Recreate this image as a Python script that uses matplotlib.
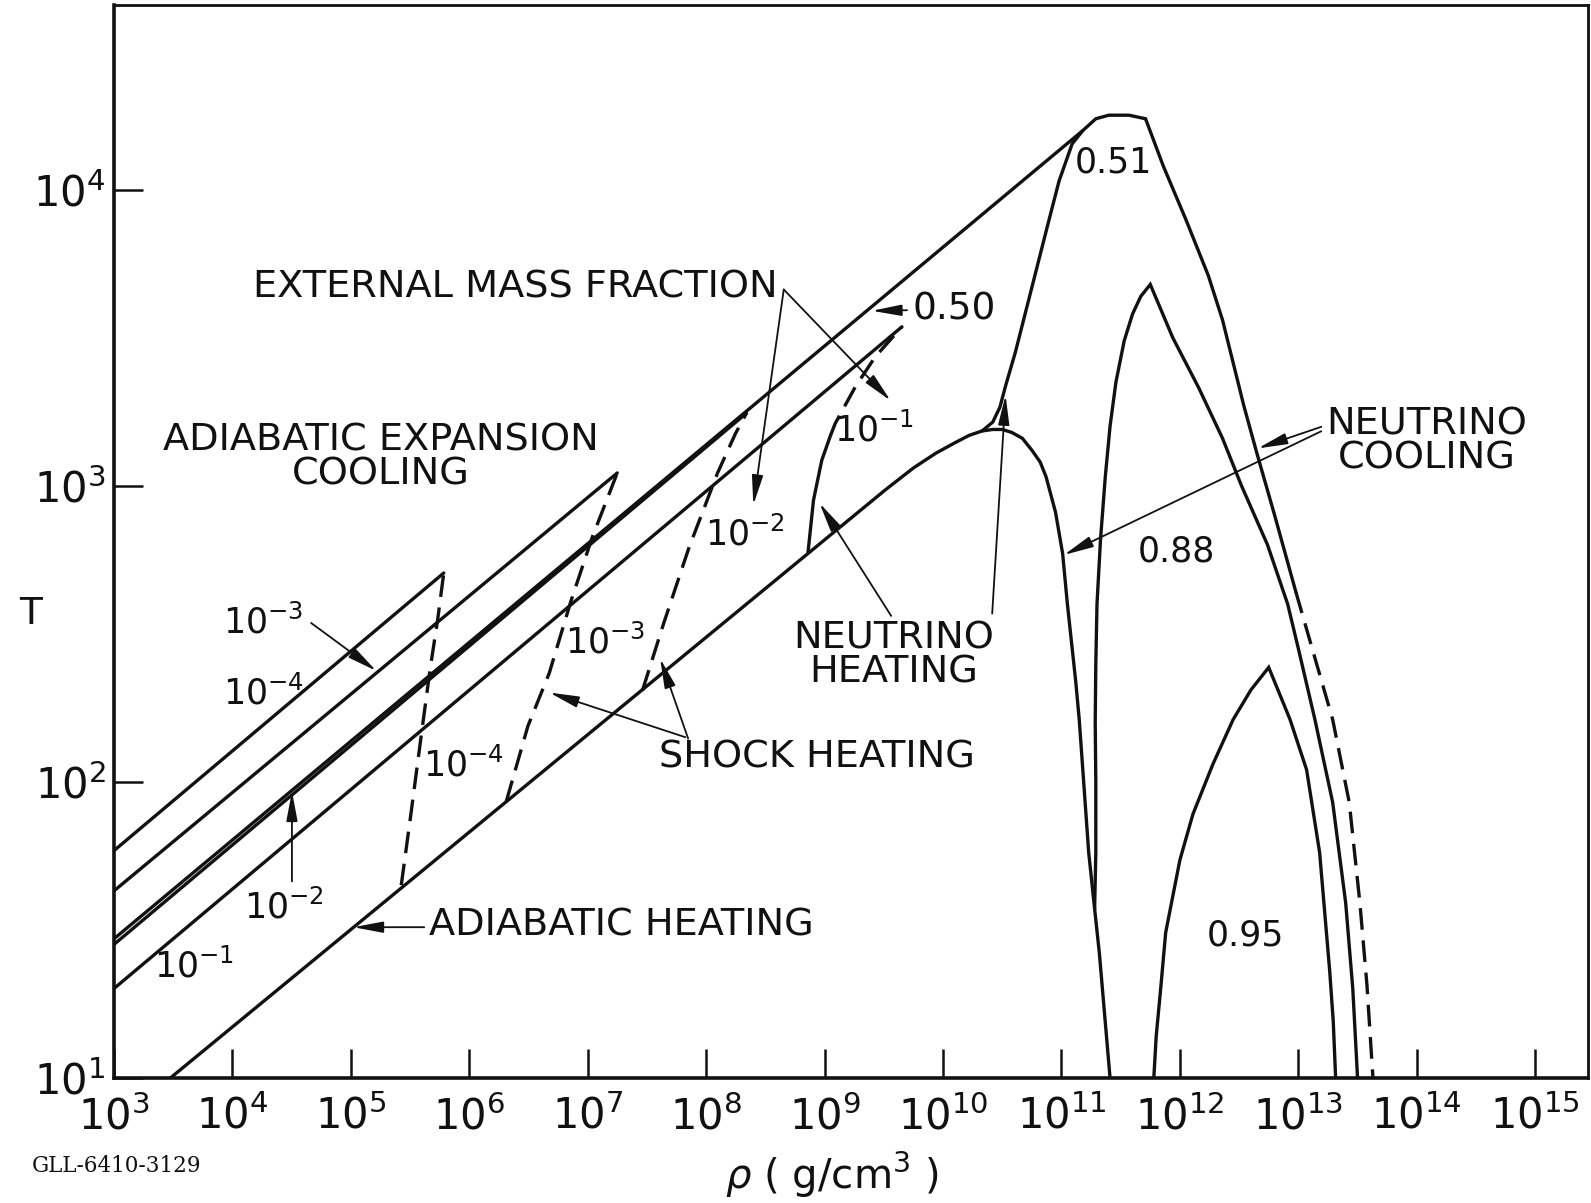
import numpy as np
import matplotlib
matplotlib.use("Agg")
import matplotlib.pyplot as plt
import matplotlib.ticker as mticker

plt.rcParams['font.family'] = ['DejaVu Sans']
plt.rcParams['mathtext.fontset'] = 'dejavusans'

# ------------------------------------------------------------------
# Trajectories in the (rho, T) plane, stored as log10 values
# (rho in g/cm^3).
# ------------------------------------------------------------------
# collapse adiabat, neutrino turnover and steep cooling drop
adiabat_lrho = [3.48, 9.51, 9.75, 9.94, 10.10, 10.22, 10.33, 10.42, 10.50,
                10.58, 10.67, 10.75, 10.82, 10.87, 10.95, 11.01, 11.05,
                11.12, 11.15, 11.23, 11.28, 11.32, 11.41]
adiabat_lT = [1.00, 2.985, 3.06, 3.11, 3.145, 3.17, 3.185, 3.19, 3.19,
              3.18, 3.16, 3.12, 3.08, 3.03, 2.91, 2.77, 2.60,
              2.34, 2.21, 1.76, 1.57, 1.42, 1.00]

# neutrino heating branch and plateau (shared by 0.50 and 0.51)
rise_lrho = [10.33, 10.42, 10.48, 10.53, 10.61, 10.75, 10.88, 10.98, 11.09,
             11.18, 11.29, 11.40, 11.57, 11.71]
rise_lT = [3.185, 3.215, 3.265, 3.34, 3.45, 3.67, 3.875, 4.03, 4.155,
           4.20, 4.24, 4.252, 4.252, 4.24]

# 0.50: expansion back along a high adiabat
m050_lrho = [3.0, 11.18]
m050_lT = [1.469, 4.20]

# 0.51: neutrino cooling at high density
m051_lrho = [11.71, 11.86, 12.05, 12.15, 12.24, 12.36, 12.54, 12.65, 12.80,
             12.98, 13.29, 13.43, 13.52, 13.58, 13.63]
m051_lT = [4.24, 4.08, 3.90, 3.80, 3.71, 3.56, 3.27, 3.11, 2.90,
           2.64, 2.21, 1.93, 1.59, 1.31, 1.00]
m051_solid_end = 9          # index where the dashed part begins

# 0.88
m088_lrho = [11.28, 11.29, 11.29, 11.285, 11.29, 11.30, 11.33, 11.37, 11.41,
             11.46, 11.53, 11.60, 11.67, 11.75, 11.94, 12.16, 12.36, 12.52,
             12.74, 12.91, 13.00, 13.14, 13.29, 13.40, 13.46, 13.50]
m088_lT = [1.57, 1.76, 2.00, 2.20, 2.40, 2.60, 2.82, 3.03, 3.20,
           3.35, 3.49, 3.58, 3.64, 3.68, 3.50, 3.33, 3.16, 3.00,
           2.80, 2.60, 2.45, 2.21, 1.93, 1.59, 1.30, 1.00]

# 0.95
m095_lrho = [11.78, 11.80, 11.84, 11.88, 12.00, 12.11, 12.28, 12.45, 12.60,
             12.75, 12.93, 13.07, 13.18, 13.265, 13.295, 13.315]
m095_lT = [1.00, 1.14, 1.31, 1.49, 1.735, 1.89, 2.06, 2.21, 2.31,
           2.386, 2.21, 2.04, 1.76, 1.36, 1.19, 1.00]

# adiabatic expansion cooling lines (outer mass fractions)
exp_1e4_lrho, exp_1e4_lT = [3.0, 5.784], [1.767, 2.705]
exp_1e3_lrho, exp_1e3_lT = [3.0, 7.249], [1.631, 3.043]
exp_1e2_lrho, exp_1e2_lT = [3.0, 8.34], [1.450, 3.245]
exp_1e1_lrho, exp_1e1_lT = [3.0, 9.653], [1.301, 3.537]

# shock heating jumps
shk_1e4_lrho = [5.425, 5.506, 5.604, 5.669, 5.733, 5.784]
shk_1e4_lT = [1.650, 1.889, 2.187, 2.381, 2.549, 2.705]
shk_1e3_lrho = [6.312, 6.494, 6.675, 6.857, 7.038, 7.249]
shk_1e3_lT = [1.933, 2.187, 2.367, 2.609, 2.826, 3.043]
shk_1e2_lrho = [7.461, 7.642, 7.854, 8.096, 8.247, 8.34]
shk_1e2_lT = [2.307, 2.536, 2.790, 3.043, 3.176, 3.245]
shk_1e1_lrho = [8.86, 8.906, 8.976, 9.05, 9.089, 9.259, 9.428, 9.653]
shk_1e1_lT = [2.775, 2.951, 3.086, 3.17, 3.210, 3.334, 3.436, 3.537]
shk_1e1_solid_end = 3

rho_tick_exp = list(range(3, 16))
T_tick_exp = list(range(1, 5))

# ------------------------------------------------------------------
INK = '#111111'
LW = 2.4

fig = plt.figure(figsize=(15.91, 12.03), dpi=100)
ax = fig.add_axes([0.0717, 0.1043, 0.9267, 0.8912])
ax.set_xscale('log')
ax.set_yscale('log')
ax.set_xlim(1e3, 10 ** 15.45)
ax.set_ylim(10, 10 ** 4.623)


def P(lr, lt):
    return (10.0 ** lr, 10.0 ** lt)


def trace(lrho, lT, dashed=False):
    x = np.power(10.0, np.asarray(lrho, float))
    y = np.power(10.0, np.asarray(lT, float))
    if dashed:
        ax.plot(x, y, color=INK, lw=LW, dashes=(6.5, 3.2),
                dash_capstyle='butt', zorder=2)
    else:
        ax.plot(x, y, color=INK, lw=LW, solid_joinstyle='miter',
                solid_capstyle='round', zorder=2)


trace(adiabat_lrho, adiabat_lT)
trace(rise_lrho, rise_lT)
trace(m050_lrho, m050_lT)
trace(m051_lrho[:m051_solid_end + 1], m051_lT[:m051_solid_end + 1])
trace(m051_lrho[m051_solid_end:], m051_lT[m051_solid_end:], dashed=True)
trace(m088_lrho, m088_lT)
trace(m095_lrho, m095_lT)

for lr, lt in [(exp_1e4_lrho, exp_1e4_lT), (exp_1e3_lrho, exp_1e3_lT),
               (exp_1e2_lrho, exp_1e2_lT), (exp_1e1_lrho, exp_1e1_lT)]:
    trace(lr, lt)

trace(shk_1e4_lrho, shk_1e4_lT, dashed=True)
trace(shk_1e3_lrho, shk_1e3_lT, dashed=True)
trace(shk_1e2_lrho, shk_1e2_lT, dashed=True)
trace(shk_1e1_lrho[:shk_1e1_solid_end + 1], shk_1e1_lT[:shk_1e1_solid_end + 1])
trace(shk_1e1_lrho[shk_1e1_solid_end:], shk_1e1_lT[shk_1e1_solid_end:], dashed=True)

# ---- axes styling -------------------------------------------------
ax.xaxis.set_major_locator(mticker.FixedLocator([10.0 ** e for e in rho_tick_exp]))
ax.yaxis.set_major_locator(mticker.FixedLocator([10.0 ** e for e in T_tick_exp]))
ax.xaxis.set_minor_locator(mticker.NullLocator())
ax.yaxis.set_minor_locator(mticker.NullLocator())
ax.xaxis.set_major_formatter(mticker.FuncFormatter(lambda v, p: r'$10^{%d}$' % round(np.log10(v))))
ax.yaxis.set_major_formatter(mticker.FuncFormatter(lambda v, p: r'$10^{%d}$' % round(np.log10(v))))
ax.tick_params(which='major', direction='in', length=21, width=1.8,
               labelsize=30, color=INK, labelcolor=INK, top=False, right=False)
ax.tick_params(axis='x', pad=13)
ax.tick_params(axis='y', pad=6)
for side, w in [('left', 2.6), ('bottom', 2.6), ('top', 2.0), ('right', 2.0)]:
    ax.spines[side].set_linewidth(w)
    ax.spines[side].set_color(INK)

ax.set_ylabel('T', rotation=0, fontsize=27, color=INK, ha='center', va='center')
ax.yaxis.set_label_coords(-0.0567, 0.432)
ax.set_xlabel(r'$\rho$ ( g/cm$^3$ )', fontsize=29, color=INK, ha='center', va='center')
ax.xaxis.set_label_coords(0.4865, -0.0905)

fig.text(0.02, 0.031, 'GLL-6410-3129', family='DejaVu Serif', fontsize=15.5,
         color=INK, va='center', ha='left')

# ---- labels ------------------------------------------------------
TXT = 27.5
NUM = 25
kw = dict(color=INK, zorder=3)
ax.text(*P(8.60, 3.671), 'EXTERNAL MASS FRACTION', fontsize=TXT, ha='right', va='center', **kw)
ax.text(*P(5.255, 3.095), 'ADIABATIC EXPANSION\nCOOLING', fontsize=TXT, ha='center',
        va='center', multialignment='center', linespacing=0.95, **kw)
ax.text(*P(13.24, 3.149), 'NEUTRINO\nCOOLING', fontsize=TXT, ha='left',
        va='center', multialignment='center', linespacing=0.95, **kw)
ax.text(*P(9.582, 2.426), 'NEUTRINO\nHEATING', fontsize=TXT, ha='center',
        va='center', multialignment='center', linespacing=0.95, **kw)
ax.text(*P(8.938, 2.080), 'SHOCK HEATING', fontsize=TXT, ha='center', va='center', **kw)
ax.text(*P(5.66, 1.514), 'ADIABATIC HEATING', fontsize=TXT, ha='left', va='center', **kw)

ax.text(*P(9.74, 3.595), '0.50', fontsize=NUM + 2, ha='left', va='center', **kw)
ax.text(*P(11.437, 4.092), '0.51', fontsize=NUM, ha='center', va='center', **kw)
ax.text(*P(11.970, 2.779), '0.88', fontsize=NUM, ha='center', va='center', **kw)
ax.text(*P(12.553, 1.480), '0.95', fontsize=NUM, ha='center', va='center', **kw)

for s, (lr, lt) in [(r'$10^{-3}$', (4.258, 2.539)), (r'$10^{-4}$', (4.258, 2.299)),
                    (r'$10^{-2}$', (4.438, 1.576)), (r'$10^{-1}$', (3.674, 1.377)),
                    (r'$10^{-4}$', (5.950, 2.056)), (r'$10^{-3}$', (7.151, 2.471)),
                    (r'$10^{-2}$', (8.329, 2.837)), (r'$10^{-1}$', (9.414, 3.187))]:
    ax.text(*P(lr, lt), s, fontsize=NUM, ha='center', va='center', **kw)

# ---- pointer arrows -----------------------------------------------
AP = dict(arrowstyle='-|>,head_length=0.9,head_width=0.17', color=INK, lw=1.3,
          shrinkA=0, shrinkB=0, mutation_scale=20)


def pointer(tail, head):
    ax.annotate('', xy=P(*head), xytext=P(*tail), arrowprops=AP, zorder=3)


pointer((8.655, 3.663), (8.398, 2.935))      # to 10^-2 shock label
pointer((8.655, 3.663), (9.558, 3.287))      # to 10^-1 shock label
pointer((4.664, 2.536), (5.215, 2.374))      # 10^-3 expansion line
pointer((4.502, 1.663), (4.502, 1.967))      # 10^-2 expansion line
pointer((9.696, 3.593), (9.399, 3.591))      # 0.50 line
pointer((7.824, 2.150), (6.675, 2.301))      # shock heating 10^-3
pointer((7.848, 2.145), (7.611, 2.416))      # shock heating 10^-2
pointer((5.619, 1.508), (5.021, 1.508))      # adiabatic heating
pointer((9.562, 2.560), (8.957, 2.941))      # neutrino heating (10^-1)
pointer((10.415, 2.568), (10.528, 3.306))    # neutrino heating (0.51)
pointer((13.194, 3.199), (12.658, 3.126))    # neutrino cooling (0.51)
pointer((13.194, 3.184), (11.021, 2.766))    # neutrino cooling (0.88)

fig.savefig('out.png', dpi=100, facecolor='white')
